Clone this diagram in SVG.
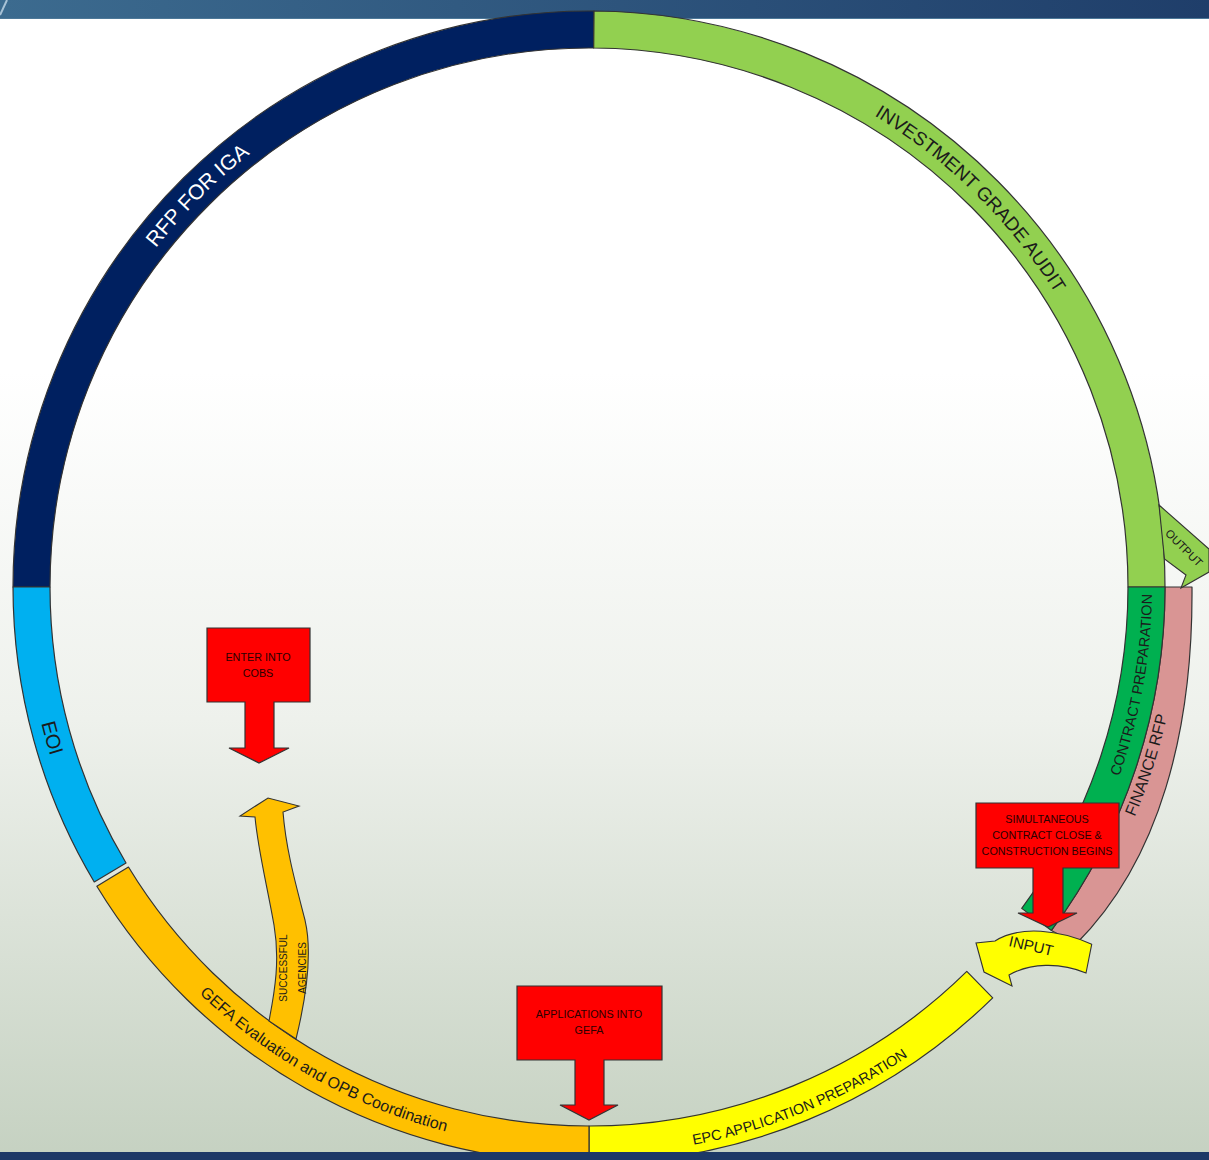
<svg xmlns="http://www.w3.org/2000/svg" width="1209" height="1160" viewBox="0 0 1209 1160">
<defs>
<linearGradient id="bg" x1="0" y1="0" x2="0" y2="1">
<stop offset="0" stop-color="#ffffff"/>
<stop offset="0.32" stop-color="#ffffff"/>
<stop offset="0.62" stop-color="#eef1ec"/>
<stop offset="1" stop-color="#c5d1c1"/>
</linearGradient>
<linearGradient id="topbar" x1="0" y1="0" x2="1" y2="0">
<stop offset="0" stop-color="#3c6b8f"/>
<stop offset="1" stop-color="#1f3e6a"/>
</linearGradient>
<path id="tp-rfp" d="M 138.47 902.47 A 550 550 0 0 1 904.47 136.47"/>
<path id="tp-iga" d="M 269.03 138.42 A 551 551 0 0 1 1043.10 899.09"/>
<path id="tp-eoi" d="M 344.20 78.34 A 564.5 564.5 0 0 0 645.07 1148.71"/>
<path id="tp-cp" d="M 587.03 1150.00 A 563 563 0 0 0 783.30 58.60"/>
<path id="tp-fin" d="M 501.30 1173.55 A 593 593 0 0 0 856.60 58.20"/>
<path id="tp-gefa" d="M 57.48 401.38 A 563 563 0 0 0 1024.90 943.32"/>
<path id="tp-epc" d="M 110.85 890.58 A 566 566 0 0 0 1141.94 465.45"/>
</defs>
<style>
.seg{stroke:#333;stroke-width:1.2;stroke-linejoin:round}
.lbl{font-family:"Liberation Sans",Arial,sans-serif;fill:#1b1b1b}
.call{fill:#ff0000;stroke:#333;stroke-width:1.2;stroke-linejoin:miter}
.ctext{font-family:"Liberation Sans",Arial,sans-serif;font-size:10.8px;fill:#2a0000;text-anchor:middle}
.arr{stroke:#333;stroke-width:1.1;stroke-linejoin:miter}
</style>
<rect x="0" y="0" width="1209" height="1160" fill="url(#bg)"/>
<g id="header">
<rect x="0" y="0" width="1209" height="19" fill="url(#topbar)"/>
<line x1="0" y1="18.5" x2="1209" y2="18.5" stroke="#4d7898" stroke-width="1"/>
<line x1="0" y1="15" x2="7" y2="0" stroke="#a8c2d6" stroke-width="2"/>
</g>

<g id="rfp-for-iga">
<path class="seg" fill="#002060" d="M 13 587 A 576 576 0 0 1 594.03 11.02 L 593.70 48.02 A 539 539 0 0 0 50 587 Z"/>
<text class="lbl" font-size="21" style="fill:#ffffff"><textPath href="#tp-rfp" startOffset="50%" text-anchor="middle">RFP FOR IGA</textPath></text>
</g>
<g id="investment-grade-audit">
<path class="seg" fill="#92d050" d="M 594.03 11.02 A 576 576 0 0 1 1165 587 L 1128 587 A 539 539 0 0 0 593.70 48.02 Z"/>
<text class="lbl" font-size="19"><textPath href="#tp-iga" startOffset="50%" text-anchor="middle">INVESTMENT GRADE AUDIT</textPath></text>
</g>
<g id="finance-rfp">
<path class="seg" fill="#d99594" d="M 1165 587 L 1192 587 C 1193 730 1160 860 1076 944 L 1051.42 930.42 A 576 576 0 0 0 1165 587 Z"/>
<text class="lbl" font-size="16"><textPath href="#tp-fin" startOffset="50%" text-anchor="middle">FINANCE RFP</textPath></text>
</g>
<g id="contract-preparation">
<path class="seg" fill="#00b050" d="M 1165 587 A 576 576 0 0 1 1051.42 930.42 L 1021.72 908.36 A 539 539 0 0 0 1128 587 Z"/>
<text class="lbl" font-size="14.5"><textPath href="#tp-cp" startOffset="50%" text-anchor="middle">CONTRACT PREPARATION</textPath></text>
</g>
<g id="epc-application-preparation">
<path class="seg" fill="#ffff00" d="M 992.72 997.83 A 576 576 0 0 1 589 1163 L 589 1126 A 539 539 0 0 0 966.79 971.44 Z"/>
<text class="lbl" font-size="14.5"><textPath href="#tp-epc" startOffset="50%" text-anchor="middle">EPC APPLICATION PREPARATION</textPath></text>
</g>
<g id="gefa-evaluation">
<path class="seg" fill="#ffc000" d="M 589 1163 A 576 576 0 0 1 96.85 886.24 L 128.47 867.02 A 539 539 0 0 0 589 1126 Z"/>
<text class="lbl" font-size="16"><textPath href="#tp-gefa" startOffset="50%" text-anchor="middle">GEFA Evaluation and OPB Coordination</textPath></text>
</g>
<g id="eoi">
<path class="seg" fill="#00b0f0" d="M 94.24 881.94 A 576 576 0 0 1 13 587 L 50 587 A 539 539 0 0 0 126.02 862.99 Z"/>
<text class="lbl" font-size="20"><textPath href="#tp-eoi" startOffset="50%" text-anchor="middle">EOI</textPath></text>
</g>

<g id="connectors">
<g id="output-arrow">
<path class="arr" fill="#92d050" d="M 1159 505 L 1209 549 L 1209 572 L 1181 588 L 1186 575 L 1164.5 559 Z"/>
<text class="lbl" font-size="11.5" text-anchor="middle" transform="translate(1184 548) rotate(45)" dy="4">OUTPUT</text>
</g>
<g id="successful-agencies-arrow">
<path class="arr" fill="#ffc000" d="M 269 1021 C 275 990 280 960 274 925 C 267 885 258 850 255 817 L 240 816 L 268 798 L 299 806 L 283 812 C 286 850 296 885 305 920 C 312 950 308 990 296 1039 Z"/>
<text class="lbl" font-size="10" text-anchor="middle" transform="translate(287 968) rotate(-90)">SUCCESSFUL</text>
<text class="lbl" font-size="10" text-anchor="middle" transform="translate(305.5 968) rotate(-90)">AGENCIES</text>
</g>
<g id="input-arrow">
<path class="arr" fill="#ffff00" d="M 1091.7 944.3 C 1060 930 1020 925 995 941 L 976 943 L 984 972 L 1012 986 L 1009 975 C 1030 963 1060 962 1086 973 Z"/>
<text class="lbl" font-size="15" text-anchor="middle" transform="translate(1030 951) rotate(13)">INPUT</text>
</g>
</g>

<g id="enter-into-cobs">
<polygon class="call" points="207,628 310,628 310,702 274,702 274,748 289,748 259,763 229,748 245,748 245,702 207,702"/>
<text class="ctext" x="258" y="661">ENTER  INTO</text>
<text class="ctext" x="258" y="677">COBS</text>
</g>
<g id="applications-into-gefa">
<polygon class="call" points="517,986 662,986 662,1060 604,1060 604,1105 618,1105 589,1120 560,1105 575,1105 575,1060 517,1060"/>
<text class="ctext" x="589" y="1018">APPLICATIONS INTO</text>
<text class="ctext" x="589" y="1034">GEFA</text>
</g>
<g id="simultaneous-close">
<polygon class="call" points="976,803 1119,803 1119,868 1063,868 1063,913 1077,913 1048,927 1018,913 1033,913 1033,868 976,868"/>
<text class="ctext" x="1047" y="823">SIMULTANEOUS</text>
<text class="ctext" x="1047" y="839">CONTRACT CLOSE &amp;</text>
<text class="ctext" x="1047" y="855">CONSTRUCTION BEGINS</text>
</g>

<g id="footer">
<rect x="0" y="1152" width="1209" height="8" fill="#1d3867"/>
</g>
</svg>
